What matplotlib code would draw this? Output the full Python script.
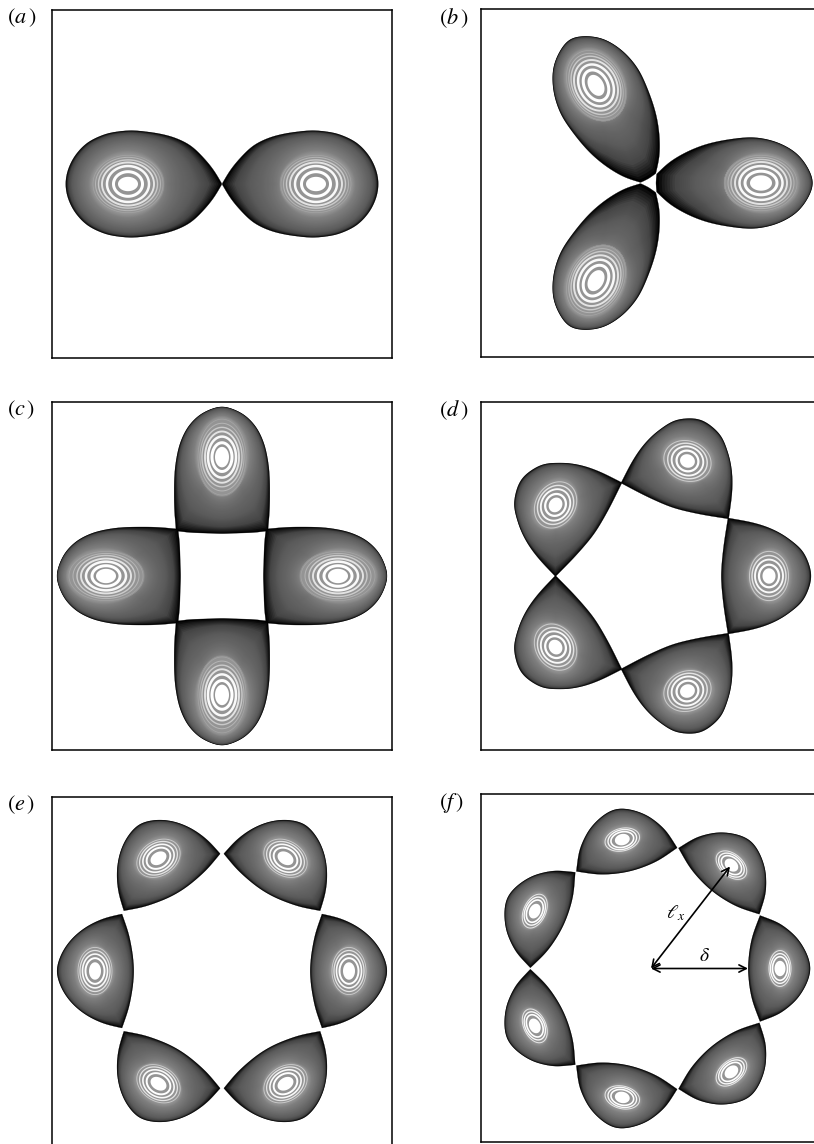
import numpy as np
import matplotlib
matplotlib.use('Agg')
import matplotlib.pyplot as plt

plt.rcParams['mathtext.fontset'] = 'stix'
plt.rcParams['font.family'] = ['Liberation Serif', 'DejaVu Sans']
plt.rcParams['path.simplify'] = False

# panels, all lengths in reference pixels from the panel centre
labels = ['a', 'b', 'c', 'd', 'e', 'f']
n_lobes = [2, 3, 4, 5, 6, 7]
centres = [(222, 184), (651, 183), (222, 576), (651, 576), (222, 971), (651, 968.5)]
peaks = [94, 110, 116, 118, 127, 129]
y_stretch = 1.025

# half outline of a lobe lying along +x: inner edge up to the corner, then outer edge
inner_x = [[], [5, 5.7], [41, 42, 42, 44], [70, 71, 73, 77], [88, 89, 93, 100], [97, 98, 101, 109]]
inner_y = [[], [0, 9], [0, 15, 30, 47], [0, 15, 33, 58], [0, 15, 37, 57], [0, 15, 32, 53]]
outer_x = [
    [0, 8, 18, 31, 48, 65, 91, 115, 135, 148, 155, 157],
    [5.7, 18, 35, 52, 68, 88, 103, 120, 133, 146, 155, 161, 163],
    [44, 66, 93, 108, 128, 145, 158, 165, 166],
    [77, 100, 117, 133, 152, 159, 161],
    [100, 118, 135, 149, 159, 164, 166],
    [109, 129, 146, 156, 160.5],
]
outer_y = [
    [0, 14, 26, 39, 47, 51, 54, 51, 42, 28, 13, 0],
    [9, 21, 31, 38, 42, 45, 46, 43, 38, 30, 19, 7, 0],
    [47, 49, 49, 48, 44, 36, 23, 6, 0],
    [58, 54, 49, 41, 26, 10, 0],
    [57, 53, 45, 34, 21, 9, 0],
    [53, 45.5, 31.5, 15.5, 0],
]

# white disc and white gaps between the grey rings at the lobe peak
disc_rx = [10, 11, 10, 6.5, 6, 5.5]
disc_ry = [7, 7.5, 7, 7.5, 8.5, 7.5]
gap_rx = [
    [14.5, 21, 26, 29.5, 32.5, 35],
    [16, 21.5, 26, 30, 33, 36],
    [14, 20, 25, 29, 33, 37],
    [10, 14, 17, 19.5],
    [9.5, 12.5, 15, 17],
    [7.5, 9.5, 11],
]
gap_ry = [
    [12, 17.5, 21, 23.5, 26, 28],
    [11.5, 16.5, 20.5, 23, 25, 27],
    [10, 14, 17, 20, 22, 24],
    [11, 16, 20, 24],
    [12.5, 16.5, 20, 23],
    [11.5, 14.5, 17.5],
]
gap_width = [3.0, 2.5, 1.9, 1.4, 1.0, 0.7]
gap_alpha = [1, 0.95, 0.75, 0.5, 0.3, 0.15]
gap_scale = [1, 1, 1, 0.75, 0.65, 0.55]

# grey ramp from the lobe edge to the ring region
ramp_q = [0, 0.03, 0.1, 0.25, 0.55, 0.85, 1]
ramp_grey = [0, 0.1, 0.27, 0.36, 0.43, 0.5, 0.58]

# arrows in panel (f)
arrow_from = (0, 0)
arrow_lx = (79, 99.5)
arrow_delta = (97, 0)

W, H = 814, 1144
box_left = [52, 481, 52, 481, 52, 481]
box_top = [10, 9, 402, 402, 797, 794]
box_w, box_h = 340, 348
label_x = [7, 439, 7, 439, 7, 439]
label_y = [18, 18, 410, 410, 805, 803]


def smooth_edge(x, y, mirror_start=False):
    # resample along the arc and run a moving average, ends stay fixed
    p = np.column_stack([x, y]).astype(float)
    s = np.concatenate([[0], np.cumsum(np.hypot(*np.diff(p, axis=0).T))])
    u = np.arange(0, s[-1], 0.5)
    u = np.append(u, s[-1])
    c = np.column_stack([np.interp(u, s, p[:, 0]), np.interp(u, s, p[:, 1])])
    n = 31
    if mirror_start:
        head = c[n:0:-1] * [1, -1]
    else:
        head = 2 * c[0] - c[n:0:-1]
    if c[-1][1] == 0:
        tail = c[-2:-n - 2:-1] * [1, -1]
    else:
        tail = 2 * c[-1] - c[-2:-n - 2:-1]
    both = np.vstack([head, c, tail])
    win = np.ones(n) / n
    for _ in range(2):
        both = np.column_stack([np.convolve(both[:, 0], win, 'same'), np.convolve(both[:, 1], win, 'same')])
    return both[n:n + len(c)]


def lobe_radius(i, theta):
    parts = []
    if len(inner_x[i]) > 2:
        parts.append(smooth_edge(inner_x[i], inner_y[i], True))
    elif len(inner_x[i]) == 2:
        parts.append(np.column_stack([inner_x[i], inner_y[i]]).astype(float))
    parts.append(smooth_edge(outer_x[i], outer_y[i]))
    half = np.vstack(parts)
    dx = half[:, 0] - peaks[i]
    dy = np.abs(half[:, 1]) / y_stretch
    ang = np.arctan2(dy, dx)
    rad = np.hypot(dx, dy)
    ang = np.concatenate([ang, -ang])
    rad = np.concatenate([rad, rad])
    r = np.interp(theta, ang, rad, period=2 * np.pi)
    r[0] = r[1]
    r[-1] = r[-2]
    return r


def ellipse_radius(rx, ry, theta):
    return rx * ry / np.hypot(ry * np.cos(theta), rx * np.sin(theta))


fig = plt.figure(figsize=(W / 100, H / 100), dpi=100)
theta = np.linspace(-np.pi, np.pi, 1441)
levels = np.linspace(0, 1, 70)

for i in range(6):
    ax = fig.add_axes([box_left[i] / W, 1 - (box_top[i] + box_h) / H, box_w / W, box_h / H])
    cx, cy = centres[i]
    ax.set_xlim(box_left[i] - cx, box_left[i] + box_w - cx)
    ax.set_ylim((cy - box_top[i] - box_h) / y_stretch, (cy - box_top[i]) / y_stretch)
    ax.set_xticks([])
    ax.set_yticks([])
    for s in ax.spines.values():
        s.set_linewidth(1.1)

    r_out = lobe_radius(i, theta)
    r_ell = ellipse_radius(gap_rx[i][-1] + 1, gap_ry[i][-1] + 1, theta)
    gap = np.maximum(r_out - r_ell, 1)
    # the long way into a cusp or corner stays dark for longer
    power = np.clip(gap / np.median(gap), 0.8, 3)

    def place(r, rot):
        x = peaks[i] + r * np.cos(theta)
        y = r * np.sin(theta)
        return x * np.cos(rot) - y * np.sin(rot), x * np.sin(rot) + y * np.cos(rot)

    for k in range(n_lobes[i]):
        rot = 2 * np.pi * k / n_lobes[i]
        for q in levels:
            g = np.interp(q, ramp_q, ramp_grey)
            x, y = place(r_ell + gap * (1 - q) ** power, rot)
            ax.fill(x, y, color=str(g), lw=0.2 if q == 0 else 0)
        for j in range(len(gap_rx[i])):
            x, y = place(ellipse_radius(gap_rx[i][j], gap_ry[i][j], theta), rot)
            ax.plot(x, y, color='white', lw=gap_width[j] * gap_scale[i] * 0.72, alpha=gap_alpha[j],
                    solid_capstyle='butt')
        x, y = place(ellipse_radius(disc_rx[i], disc_ry[i], theta), rot)
        ax.fill(x, y, color='white', lw=0)

    fig.text(label_x[i] / W, 1 - label_y[i] / H, r'$(%s\,)$' % labels[i],
             fontsize=16, ha='left', va='center')

    if i == 5:
        for end in (arrow_lx, arrow_delta):
            ax.annotate('', xy=end, xytext=arrow_from,
                        arrowprops=dict(arrowstyle='<->', color='black', lw=1.2,
                                        shrinkA=0, shrinkB=0, mutation_scale=13))
        ax.text(25, 53.6, r'$\ell_x$', fontsize=14, ha='center', va='center')
        ax.text(53, 11.7, r'$\delta$', fontsize=14, ha='center', va='center')

fig.savefig('out.png', dpi=100)
